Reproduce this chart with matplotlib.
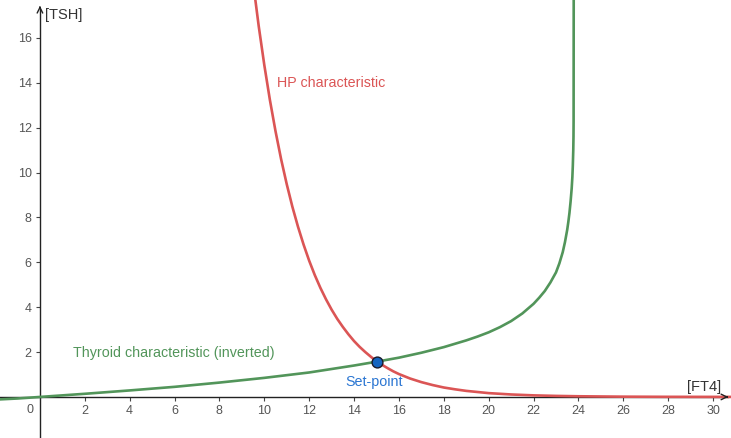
import numpy as np
import matplotlib
matplotlib.use("Agg")
import matplotlib.pyplot as plt

plt.rcParams['font.family'] = ['Liberation Sans', 'DejaVu Sans']

# HP characteristic
hp_x = [9.5, 9.75, 10.0, 10.25, 10.5, 10.75, 11.0, 11.25, 11.5, 11.75, 12.0, 12.25,
        12.5, 12.75, 13.0, 13.25, 13.5, 13.75, 14.0, 14.25, 14.5, 14.75, 15.0,
        15.25, 15.5, 15.75, 16.0, 16.5, 17.0, 17.5, 18.0, 18.5, 19.0, 19.5, 20.0,
        21.0, 22.0, 23.0, 24.0, 26.0, 28.0, 31.0]
hp_y = [18.48, 16.53, 14.79, 13.23, 11.84, 10.59, 9.48, 8.48, 7.59, 6.79, 6.07, 5.43,
        4.86, 4.35, 3.89, 3.48, 3.12, 2.79, 2.49, 2.23, 2.00, 1.79, 1.59,
        1.43, 1.28, 1.14, 1.02, 0.82, 0.66, 0.53, 0.42, 0.34, 0.27, 0.22, 0.17,
        0.11, 0.07, 0.046, 0.03, 0.012, 0.005, 0.001]

# thyroid characteristic, inverted
thy_x = [-1.8, -1.0, 0.0, 2.0, 4.0, 6.0, 8.0, 10.0, 12.0, 14.0, 15.0, 16.0, 17.0,
         18.0, 19.0, 19.5, 20.0, 20.5, 21.0, 21.5, 22.0, 22.25, 22.5, 22.75, 23.0,
         23.15, 23.3, 23.4, 23.5, 23.55, 23.6, 23.65, 23.7, 23.73, 23.75, 23.77,
         23.78, 23.785, 23.79]
thy_y = [-0.11, -0.07, 0.0, 0.14, 0.29, 0.45, 0.64, 0.85, 1.09, 1.40, 1.57, 1.75,
         1.97, 2.22, 2.52, 2.69, 2.88, 3.11, 3.38, 3.72, 4.15, 4.42, 4.72, 5.10, 5.55,
         5.95, 6.45, 6.9, 7.45, 7.8, 8.2, 8.7, 9.3, 9.8, 10.3, 11.0,
         11.6, 12.3, 18.0]

setpoint = (15.04, 1.57)

x_ticks = list(range(2, 31, 2))
y_ticks = list(range(2, 17, 2))

red = '#db5555'
green = '#52955a'
blue = '#2b76d2'

fig = plt.figure(figsize=(7.31, 4.38), dpi=100)
ax = fig.add_axes([0, 0, 1, 1])
ax.set_xlim(-1.78, 30.8)
ax.set_ylim(-1.83, 17.69)

ax.plot(hp_x, hp_y, color=red, lw=1.9, solid_capstyle='round', solid_joinstyle='round', zorder=3)
ax.plot(thy_x, thy_y, color=green, lw=1.9, solid_capstyle='round', solid_joinstyle='round', zorder=3)
ax.plot(*setpoint, 'o', ms=7.8, mfc='#1565c0', mec='#1a1a2a', mew=1.0, zorder=5)

# axes through the origin
for s in ['top', 'right']:
    ax.spines[s].set_visible(False)
ax.spines['left'].set_position(('data', 0))
ax.spines['bottom'].set_position(('data', 0))
ax.spines['left'].set_bounds(-1.83, 17.3)
ax.spines['bottom'].set_bounds(-1.78, 30.65)
for s in ['left', 'bottom']:
    ax.spines[s].set_color('#222222')
    ax.spines[s].set_linewidth(1.0)
ax.annotate('', xy=(30.8, 0), xytext=(30.5, 0),
            arrowprops=dict(arrowstyle='->', color='#222222', lw=1.0))
ax.annotate('', xy=(0, 17.55), xytext=(0, 17.2),
            arrowprops=dict(arrowstyle='->', color='#222222', lw=1.0))

ax.set_xticks(x_ticks)
ax.set_yticks(y_ticks)
ax.set_xticklabels([str(v) for v in x_ticks])
ax.set_yticklabels([str(v) for v in y_ticks])
ax.tick_params(direction='out', length=3, width=0.8, color='#444444',
               labelsize=9, labelcolor='#555555', pad=3)
ax.text(-0.45, -0.3, '0', ha='center', va='top', fontsize=9, color='#555555')

ax.text(0.22, 17.0, '[TSH]', ha='left', va='center', fontsize=10.5, color='#333333')
ax.text(28.85, 0.45, '[FT4]', ha='left', va='center', fontsize=10.5, color='#333333')

ax.text(10.55, 14.0, 'HP characteristic', color=red, fontsize=10.3, va='center')
ax.text(1.47, 1.96, 'Thyroid characteristic (inverted)', color=green, fontsize=10.3,
        va='center')
ax.text(13.6, 0.68, 'Set-point', color=blue, fontsize=10.3, va='center')

fig.savefig('out.png', dpi=100)
